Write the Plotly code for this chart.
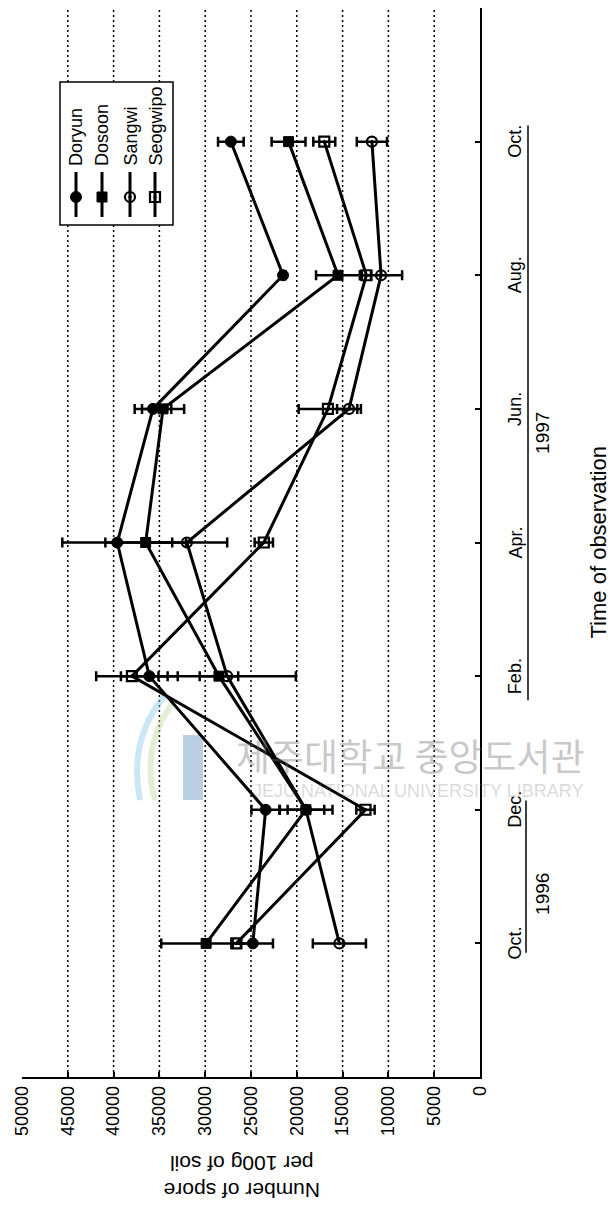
import plotly.graph_objects as go

# ---- data -------------------------------------------------------------
months = ["Oct.", "Dec.", "Feb.", "Apr.", "Jun.", "Aug.", "Oct."]
t_idx = [0, 1, 2, 3, 4, 5, 6]
series_names = ["Doryun", "Dosoon", "Sangwi", "Seogwipo"]

doryun = [24800, 23400, 36100, 39600, 35700, 21500, 27200]
doryun_err = [2200, 1550, 3100, 6000, 2000, 300, 1400]
dosoon = [29900, 19000, 28500, 36500, 34600, 15500, 20900]
dosoon_err = [4900, 2000, 2100, 4400, 2300, 2400, 1850]
sangwi = [15350, 19000, 27600, 32000, 14300, 10800, 11800]
sangwi_err = [2900, 2900, 7500, 4400, 1300, 2300, 1650]
seogwipo = [26600, 12500, 38000, 23600, 16600, 12400, 17000]
seogwipo_err = [500, 1000, 3900, 1000, 3200, 500, 1200]

value_ticks = [0, 5000, 10000, 15000, 20000, 25000, 30000, 35000, 40000, 45000, 50000]
grid_values = value_ticks[1:-1]

# ---- page geometry ----------------------------------------------------
W, H = 615, 1210
L, R, T, B = 22, 135, 8, 133
PW, PH = W - L - R, H - T - B
FONT = "Liberation Sans, Arial, Helvetica, sans-serif"


def fx(p):
    """page pixel column -> paper x"""
    return (p - L) / PW


def fy(p):
    """page pixel row -> paper y"""
    return (H - B - p) / PH


def vx(p):
    """page pixel column -> value axis coordinate"""
    return (W - R - p) / PW * 50000


def ty(p):
    """page pixel row -> time axis coordinate"""
    return (H - B - p) / PH * 8 - 1


styles = {
    "Doryun": dict(symbol="circle", size=11, color="black", line=dict(color="black", width=1)),
    "Dosoon": dict(symbol="square", size=10, color="black", line=dict(color="black", width=1)),
    "Sangwi": dict(symbol="circle-open-dot", size=10, color="black", line=dict(color="black", width=2.2)),
    "Seogwipo": dict(symbol="square-open-dot", size=10, color="black", line=dict(color="black", width=2.2)),
}
values = {"Doryun": (doryun, doryun_err), "Dosoon": (dosoon, dosoon_err),
          "Sangwi": (sangwi, sangwi_err), "Seogwipo": (seogwipo, seogwipo_err)}

fig = go.Figure()
for name in series_names:
    v, e = values[name]
    fig.add_trace(go.Scatter(
        x=v, y=t_idx, mode="lines+markers", name=name, showlegend=False,
        line=dict(color="black", width=3),
        marker=styles[name],
        error_x=dict(type="data", array=e, visible=True, color="black", thickness=2.5, width=5),
    ))

shapes = []
# dotted value gridlines
for g in grid_values:
    shapes.append(dict(type="line", xref="x", yref="paper", x0=g, x1=g, y0=0, y1=1,
                       line=dict(color="black", width=1.5, dash="2px,3px"), layer="below"))

# year brackets under the month labels
shapes.append(dict(type="line", xref="paper", yref="y", x0=fx(526), x1=fx(526), y0=-0.07, y1=1.07,
                   line=dict(color="black", width=1.5)))
shapes.append(dict(type="line", xref="paper", yref="y", x0=fx(528), x1=fx(528), y0=1.82, y1=6.12,
                   line=dict(color="black", width=1.5)))

annotations = []
for i, m in zip(t_idx, months):
    annotations.append(dict(text=m, x=fx(515), y=i, xref="paper", yref="y", showarrow=False,
                            textangle=-90, xanchor="center", yanchor="middle",
                            font=dict(family=FONT, size=18, color="black")))
for yr, pos in (("1996", 0.37), ("1997", 3.82)):
    annotations.append(dict(text=yr, x=fx(543), y=pos, xref="paper", yref="y", showarrow=False,
                            textangle=-90, xanchor="center", yanchor="middle",
                            font=dict(family=FONT, size=19, color="black")))
annotations.append(dict(text="Time of observation", x=fx(598), y=3.0, xref="paper", yref="y",
                        showarrow=False, textangle=-90, xanchor="center", yanchor="middle",
                        font=dict(family=FONT, size=22, color="black")))
annotations.append(dict(text="Number of spore<br>per 100g of soil", x=fx(242), y=fy(1177),
                        xref="paper", yref="paper", showarrow=False, textangle=180,
                        xanchor="center", yanchor="middle",
                        font=dict(family=FONT, size=21, color="black")))

# library stamp across the middle of the chart
shapes.append(dict(type="path", xref="paper", yref="paper",
                   path=f"M {fx(165)},{fy(695)} Q {fx(128)},{fy(740)} {fx(140)},{fy(800)}",
                   line=dict(color="rgba(140,200,230,0.45)", width=6), layer="below"))
shapes.append(dict(type="path", xref="paper", yref="paper",
                   path=f"M {fx(175)},{fy(700)} Q {fx(140)},{fy(745)} {fx(155)},{fy(800)}",
                   line=dict(color="rgba(190,220,160,0.45)", width=6), layer="below"))
shapes.append(dict(type="rect", xref="paper", yref="paper", x0=fx(183), x1=fx(203), y0=fy(800), y1=fy(735),
                   line=dict(width=0), fillcolor="rgba(130,165,210,0.55)", layer="below"))
annotations.append(dict(text="제주대학교 중앙도서관", x=fx(410), y=fy(755), xref="paper", yref="paper",
                        showarrow=False, xanchor="center", yanchor="middle",
                        font=dict(family="Noto Sans CJK KR", size=37, color="rgba(110,110,110,0.38)")))
annotations.append(dict(text="JEJU NATIONAL UNIVERSITY LIBRARY", x=fx(418), y=fy(791), xref="paper",
                        yref="paper", showarrow=False, xanchor="center", yanchor="middle",
                        font=dict(family=FONT, size=18, color="rgba(120,120,120,0.28)")))

# legend box drawn in the rotated orientation
leg_cols = [76, 102, 130, 155]
shapes.append(dict(type="rect", xref="paper", yref="paper", x0=fx(60), x1=fx(173), y0=fy(225), y1=fy(82),
                   line=dict(color="black", width=1.5), fillcolor="white", layer="below"))
for name, c in zip(series_names, leg_cols):
    shapes.append(dict(type="line", xref="paper", yref="paper", x0=fx(c), x1=fx(c), y0=fy(217), y1=fy(172),
                       line=dict(color="black", width=3), layer="below"))
    annotations.append(dict(text=name, x=fx(c), y=fy(168), xref="paper", yref="paper", showarrow=False,
                            textangle=-90, xanchor="center", yanchor="bottom",
                            font=dict(family=FONT, size=18, color="black")))
    fig.add_trace(go.Scatter(x=[vx(c)], y=[ty(197)], mode="markers", showlegend=False,
                             marker=styles[name], cliponaxis=False))

fig.update_layout(
    width=W, height=H, margin=dict(l=L, r=R, t=T, b=B, pad=0),
    paper_bgcolor="white", plot_bgcolor="white", showlegend=False,
    shapes=shapes, annotations=annotations,
    xaxis=dict(range=[50000, 0], tickvals=value_ticks, ticktext=[str(v) for v in value_ticks],
               tickangle=-90, ticks="inside", ticklen=5, tickwidth=1.5, tickcolor="black",
               showline=True, linecolor="black", linewidth=1.5, showgrid=False, zeroline=False,
               tickfont=dict(family=FONT, size=18, color="black")),
    yaxis=dict(range=[-1, 7], side="right", tickvals=list(range(-1, 8)), showticklabels=False,
               ticks="inside", ticklen=5, tickwidth=1.5, tickcolor="black",
               showline=True, linecolor="black", linewidth=1.5, showgrid=False, zeroline=False),
)

fig.write_html("out.html")
